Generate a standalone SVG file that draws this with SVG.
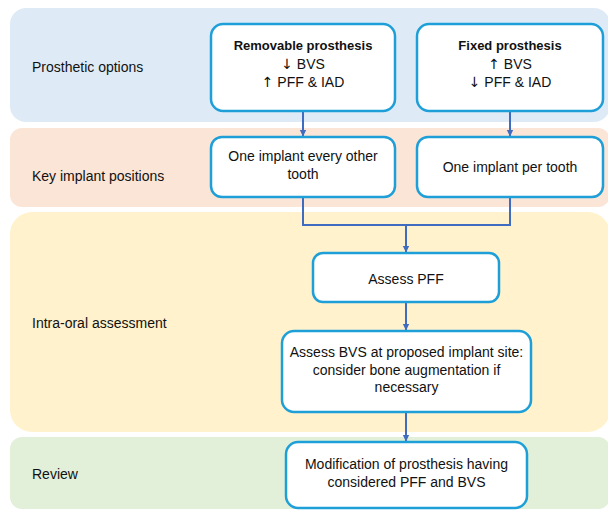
<svg xmlns="http://www.w3.org/2000/svg" width="608" height="510" viewBox="0 0 608 510">
<defs>
<style>
.band-blue{fill:#deebf7}
.band-salmon{fill:#fbe5d6}
.band-yellow{fill:#fff2cc}
.band-green{fill:#e2f0d9}
.box{fill:#ffffff;stroke:#1e9fd8;stroke-width:2.5}
.t{font-family:"Liberation Sans",Arial,sans-serif;font-size:14px;fill:#111111}
.c{text-anchor:middle}
.b{font-weight:bold;font-size:13px}
.arr{font-family:"DejaVu Sans",sans-serif;font-size:14px}
.conn{fill:none;stroke:#3f6cc0;stroke-width:2}
</style>
<marker id="ah" markerWidth="8" markerHeight="8" refX="6" refY="4" orient="auto" markerUnits="userSpaceOnUse">
<path d="M0,0.8 L6.5,4 L0,7.2 Z" fill="#3f6cc0"/>
</marker>
</defs>
<rect width="608" height="510" fill="#ffffff"/>
<g id="bands">
<rect class="band-blue" x="10" y="8" width="600" height="114" rx="16"/>
<rect class="band-salmon" x="10" y="128" width="600" height="79" rx="12"/>
<rect class="band-yellow" x="10" y="212" width="600" height="220" rx="22"/>
<rect class="band-green" x="10" y="437" width="600" height="72" rx="12"/>
</g>
<g id="lane-labels">
<text class="t" x="32" y="71.5">Prosthetic options</text>
<text class="t" x="32" y="181">Key implant positions</text>
<text class="t" x="32" y="328">Intra-oral assessment</text>
<text class="t" x="32" y="479">Review</text>
</g>
<g id="connectors">
<line class="conn" x1="303" y1="111" x2="303" y2="136" marker-end="url(#ah)"/>
<line class="conn" x1="510" y1="111" x2="510" y2="136" marker-end="url(#ah)"/>
<polyline class="conn" points="303,197 303,225 510,225 510,197"/>
<line class="conn" x1="406" y1="225" x2="406" y2="252" marker-end="url(#ah)"/>
<line class="conn" x1="406" y1="302" x2="406" y2="330" marker-end="url(#ah)"/>
<line class="conn" x1="406" y1="412" x2="406" y2="441" marker-end="url(#ah)"/>
</g>
<g id="node-removable">
<rect class="box" x="211" y="24" width="184" height="87" rx="12"/>
<text class="t c b" x="303" y="50">Removable prosthesis</text>
<text class="t c" x="303" y="68.5"><tspan class="arr">↓</tspan> BVS</text>
<text class="t c" x="303" y="86.5"><tspan class="arr">↑</tspan> PFF &amp; IAD</text>
</g>
<g id="node-fixed">
<rect class="box" x="417" y="24" width="186" height="87" rx="12"/>
<text class="t c b" x="510" y="50">Fixed prosthesis</text>
<text class="t c" x="510" y="68.5"><tspan class="arr">↑</tspan> BVS</text>
<text class="t c" x="510" y="86.5"><tspan class="arr">↓</tspan> PFF &amp; IAD</text>
</g>
<g id="node-every-other">
<rect class="box" x="211" y="137" width="184" height="60" rx="11"/>
<text class="t c" x="303" y="161">One implant every other</text>
<text class="t c" x="303" y="178.5">tooth</text>
</g>
<g id="node-per-tooth">
<rect class="box" x="417" y="137" width="186" height="60" rx="11"/>
<text class="t c" x="510" y="171.5">One implant per tooth</text>
</g>
<g id="node-assess-pff">
<rect class="box" x="313" y="253" width="186" height="49" rx="10"/>
<text class="t c" x="406" y="284">Assess PFF</text>
</g>
<g id="node-assess-bvs">
<rect class="box" x="282" y="331" width="249" height="81" rx="12"/>
<text class="t c" x="406.5" y="356.5">Assess BVS at proposed implant site:</text>
<text class="t c" x="406.5" y="374.5">consider bone augmentation if</text>
<text class="t c" x="406.5" y="392">necessary</text>
</g>
<g id="node-review">
<rect class="box" x="286" y="442" width="241" height="66" rx="12"/>
<text class="t c" x="406.5" y="469">Modification of prosthesis having</text>
<text class="t c" x="406.5" y="487">considered PFF and BVS</text>
</g>
</svg>
